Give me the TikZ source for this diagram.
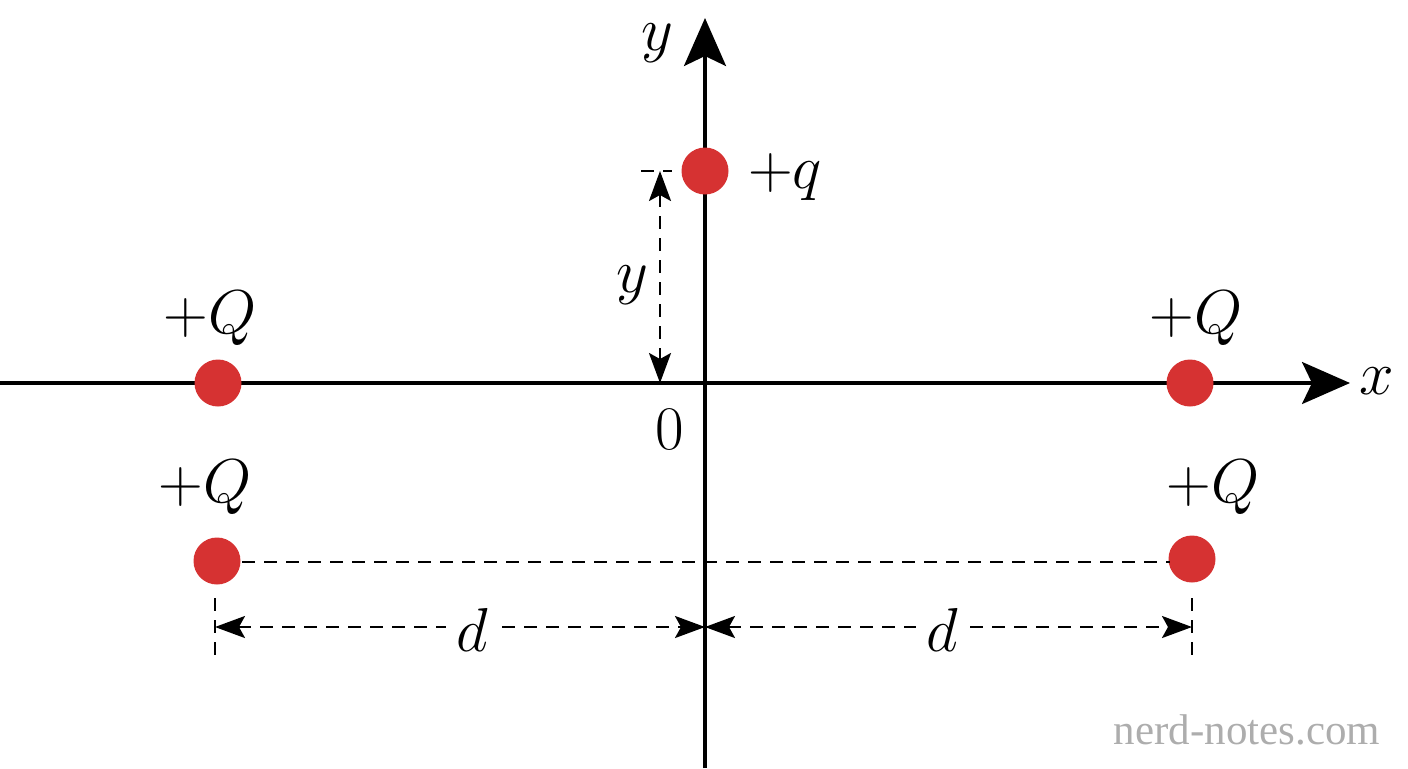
\documentclass[tikz,border=0pt]{standalone}
\usepackage{fix-cm}
\usepackage{fontspec}
\usetikzlibrary{arrows.meta}
\newfontfamily\wmfont{Liberation Serif}
\begin{document}
\begin{tikzpicture}[x=0.5pt,y=-0.5pt,
  axis/.style={line width=1.6pt,-{Stealth[length=24pt,width=21pt,inset=5pt]}},
  dimline/.style={line width=1.2pt,dash pattern=on 6.5pt off 4.5pt},
  dimarrow/.style={dimline,{Stealth[length=15pt,width=11pt,inset=3pt]}-{Stealth[length=15pt,width=11pt,inset=3pt]}},
  charge/.style={circle,fill={rgb,255:red,214;green,50;blue,50},minimum size=23.5pt,inner sep=0pt},
  lbl/.style={font=\fontsize{31}{33}\selectfont,inner sep=0pt}]
\useasboundingbox (0,0) rectangle (1408,768);
% axes
\coordinate (xs) at (0,383);
\coordinate (xe) at (1350,383);
\coordinate (ys) at (705,768);
\coordinate (ye) at (705,18);
\draw[axis] (xs) -- (xe);
\draw[axis] (ys) -- (ye);
\node[lbl] (xl) at (1377,381) {$x$};
\node[lbl] (yl) at (657,43) {$y$};
\node[lbl] (zero) at (670,430) {$0$};
% charges
\node[charge] (q) at (705,171) {};
\node[charge] (Q1) at (218,383) {};
\node[charge] (Q2) at (1190,383) {};
\node[charge] (Q3) at (217,561) {};
\node[charge] (Q4) at (1192,559) {};
\node[lbl] (ql) at (785,177) {$+q$};
\node[lbl] (Q1l) at (210,318) {$+Q$};
\node[lbl] (Q2l) at (1196,318) {$+Q$};
\node[lbl] (Q3l) at (205,487) {$+Q$};
\node[lbl] (Q4l) at (1213,487) {$+Q$};
% y dimension
\coordinate (t1) at (641,171);
\coordinate (t2) at (672,171);
\draw[dimline] (t1) -- (t2);
\coordinate (ya) at (660,171);
\coordinate (yb) at (660,383);
\draw[dimarrow] (ya) -- (yb);
\node[lbl] (yd) at (632,285) {$y$};
% dashed line between bottom charges
\coordinate (ml) at (242,562);
\coordinate (mr) at (1170,562);
\draw[dimline] (ml) -- (mr);
% d dimensions
\coordinate (dl1) at (215,598);
\coordinate (dl2) at (215,660);
\coordinate (dr1) at (1192,598);
\coordinate (dr2) at (1192,660);
\draw[dimline] (dl1) -- (dl2);
\draw[dimline] (dr1) -- (dr2);
\coordinate (da) at (215,627);
\coordinate (dm) at (705,627);
\coordinate (db) at (1192,627);
\draw[dimarrow] (da) -- (dm);
\draw[dimarrow] (dm) -- (db);
\node[lbl,fill=white,inner xsep=5pt] (d1) at (472,630) {$d$};
\node[lbl,fill=white,inner xsep=5pt] (d2) at (942,630) {$d$};
% watermark
\node[font=\wmfont\fontsize{21.5}{23}\selectfont,text=black!32,inner sep=0pt] (wm) at (1247,730) {nerd-notes.com};
\end{tikzpicture}
\end{document}
